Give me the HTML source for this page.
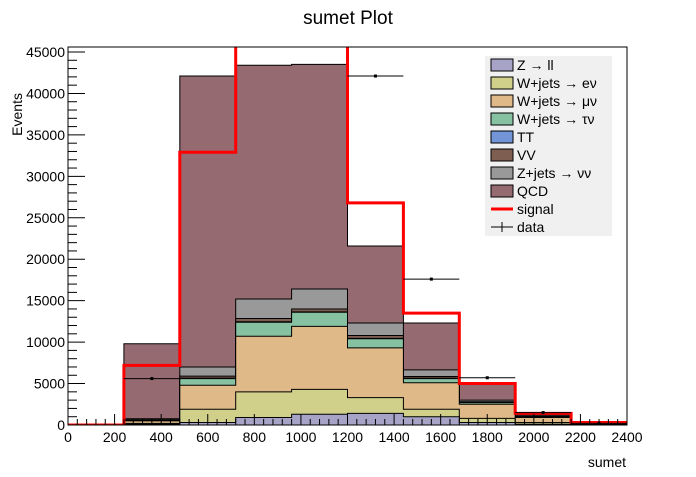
<!DOCTYPE html>
<html><head><meta charset="utf-8"><style>
body{margin:0;background:#fff;font-family:"Liberation Sans",sans-serif;}
svg text{font-family:"Liberation Sans","DejaVu Sans",sans-serif;}
</style></head><body>
<svg id="c" width="696" height="472" xmlns="http://www.w3.org/2000/svg">
<rect width="696" height="472" fill="#fff"/>
<text x="348" y="24" font-size="19" text-anchor="middle">sumet Plot</text>
<text x="22" y="93" font-size="14" text-anchor="end" transform="rotate(-90 22 93)">Events</text>
<text x="626" y="467" font-size="14" text-anchor="end">sumet</text>
<g id="plot"></g>
</svg>
<script>
const binEdges=[0,240,480,720,960,1200,1440,1680,1920,2160,2400];
const names=["Z \u2192 ll","W+jets \u2192 e\u03bd","W+jets \u2192 \u03bc\u03bd","W+jets \u2192 \u03c4\u03bd","TT","VV","Z+jets \u2192 \u03bd\u03bd","QCD"];
const colors=["#a7a3c6","#d1d08b","#dfb988","#86c1a1","#7195d6","#7f5e52","#999999","#956a70"];
// cumulative stacked tops per bin
const zll=[0,100,300,900,1300,1400,1000,300,100,20];
const wev=[0,200,1900,4000,4300,3300,1900,800,300,60];
const wmu=[0,500,4800,10700,11900,9300,5100,2500,900,150];
const wtau=[0,550,5600,12400,13600,10400,5600,2700,950,160];
const tt=[0,560,5650,12450,13650,10450,5650,2720,960,162];
const vv=[0,700,5900,12850,14000,10800,5850,2800,1000,170];
const znn=[0,750,7000,15200,16400,12300,6650,3000,1050,180];
const qcd=[0,9800,42100,43400,43500,21600,12300,5000,1200,200];
const signal=[0,7200,32900,52000,52000,26800,13500,5000,1400,300];
const dataVals=[null,5600,null,null,null,42100,17600,5700,1500,200];
const xTicks=[0,200,400,600,800,1000,1200,1400,1600,1800,2000,2200,2400];
const yTicks=[0,5000,10000,15000,20000,25000,30000,35000,40000,45000];
const X0=68,X1=627,Y0=425,YT=47;
const xs=v=>X0+(v/2400)*(X1-X0);
const ys=v=>Y0-v*(373/45000);
const ymax=(Y0-YT)/(373/45000);
const NS="http://www.w3.org/2000/svg";
const g=document.getElementById('plot');
function el(t,a,p){const e=document.createElementNS(NS,t);for(const k in a)e.setAttribute(k,a[k]);(p||g).appendChild(e);return e;}
const cp=el('clipPath',{id:'cl'});el('rect',{x:X0,y:YT,width:X1-X0,height:Y0-YT},cp);
const stacks=[zll,wev,wmu,wtau,tt,vv,znn,qcd];
function stepPath(vals){
  let d='M'+xs(0)+','+Y0;
  for(let b=0;b<10;b++){const y=ys(vals[b]);d+=' L'+xs(binEdges[b])+','+y+' L'+xs(binEdges[b+1])+','+y;}
  return d;
}
for(let s=stacks.length-1;s>=0;s--){
  const d=stepPath(stacks[s]);
  const f=el('path',{d:d+' L'+xs(2400)+','+Y0+' Z',fill:colors[s],stroke:'none','clip-path':'url(#cl)'});
  
  
  const o=el('path',{d:d+' L'+xs(2400)+','+Y0,fill:'none',stroke:'#000','stroke-width':1,'clip-path':'url(#cl)'});
  
  
}
// signal
let d='M'+xs(0)+','+ys(0);
for(let b=0;b<10;b++){const y=ys(Math.min(signal[b],ymax+2000));d+=' L'+xs(binEdges[b])+','+y+' L'+xs(binEdges[b+1])+','+y;}
const sl=el('path',{d:d,fill:'none',stroke:'#f00','stroke-width':3,'clip-path':'url(#cl)'});


for(let b=0;b<10;b++){
  if(dataVals[b]==null)continue;
  const y=ys(dataVals[b]);
  const l=el('line',{x1:xs(binEdges[b]),x2:xs(binEdges[b+1]),y1:y,y2:y,stroke:'#000','stroke-width':1});
  
  
  const p=el('rect',{x:(xs(binEdges[b])+xs(binEdges[b+1]))/2-1.5,y:y-1.5,width:3,height:3,fill:'#000'});
  
  
}
// frame
const fr=el('rect',{x:X0,y:YT,width:X1-X0,height:Y0-YT,fill:'none',stroke:'#000','stroke-width':1});


for(let v=0;v<=2400;v+=40){const x=xs(v);const maj=v%200==0;el('line',{x1:x,x2:x,y1:Y0,y2:Y0-(maj?11:6),stroke:'#000'});}
xTicks.forEach(v=>{const t=el('text',{x:xs(v),y:442,'font-size':14,'text-anchor':'middle'});t.textContent=v;
 
 });
for(let v=0;v<=45000;v+=1000){const y=ys(v);const maj=v%5000==0;el('line',{x1:X0,x2:X0+(maj?17:9),y1:y,y2:y,stroke:'#000'});}
yTicks.forEach(v=>{const t=el('text',{x:65,y:ys(v)+5,'font-size':14,'text-anchor':'end'});t.textContent=v;
 
 });
// legend
const lg=el('g',{});


el('rect',{x:485,y:56,width:127,height:180,fill:'#f0f0f0'},lg);
names.forEach((n,i)=>{const y=65+i*18;
 el('rect',{x:491,y:y-6,width:22,height:12,fill:colors[i],stroke:'#000'},lg);
 const t=el('text',{x:517,y:y+5,'font-size':14},lg);t.textContent=n;
 
 });
el('line',{x1:491,x2:513,y1:209,y2:209,stroke:'#f00','stroke-width':3},lg);
let t=el('text',{x:517,y:214,'font-size':14},lg);t.textContent='signal';


el('line',{x1:491,x2:513,y1:227,y2:227,stroke:'#000'},lg);
el('line',{x1:502,x2:502,y1:222,y2:232,stroke:'#000'},lg);
t=el('text',{x:517,y:232,'font-size':14},lg);t.textContent='data';


</script>
</body></html>
